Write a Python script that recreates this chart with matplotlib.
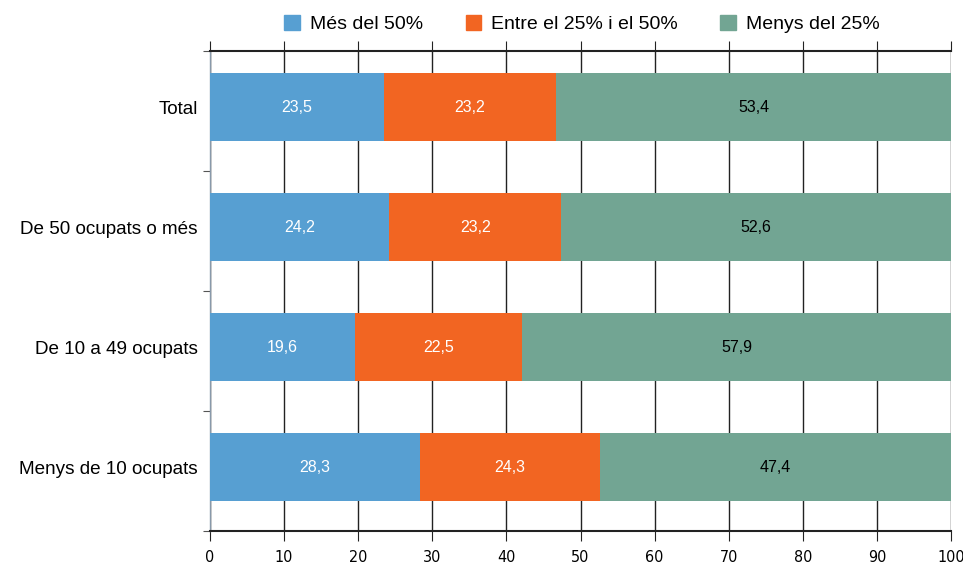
import numpy as np
import matplotlib.pyplot as plt
from matplotlib.patches import Patch

categories = ["Total", "De 50 ocupats o més", "De 10 a 49 ocupats", "Menys de 10 ocupats"]
series_names = ["Més del 50%", "Entre el 25% i el 50%", "Menys del 25%"]
mes_50 = [23.5, 24.2, 19.6, 28.3]
entre_25_50 = [23.2, 23.2, 22.5, 24.3]
menys_25 = [53.4, 52.6, 57.9, 47.4]

colors = ["#579fd2", "#f26522", "#72a593"]
text_colors = ["white", "white", "black"]

plt.rcParams['font.family'] = ['Liberation Sans', 'DejaVu Sans']

fig = plt.figure(figsize=(9.63, 5.68), dpi=100)
ax = fig.add_axes([210 / 963, 1 - 531 / 568, (951 - 210) / 963, (531 - 51) / 568])

y = np.arange(len(categories))
left = np.zeros(len(categories))
for vals, col, tcol in zip([mes_50, entre_25_50, menys_25], colors, text_colors):
    vals = np.array(vals)
    ax.barh(y, vals, left=left, height=0.57, color=col, zorder=3)
    for yi, l, v in zip(y, left, vals):
        ax.text(l + v / 2, yi, f"{v:.1f}".replace(".", ","), ha="center", va="center",
                color=tcol, fontsize=11.5, zorder=4)
    left = left + vals

ax.set_xlim(0, 100)
ax.set_ylim(len(categories) - 0.467, -0.467)
ax.set_xticks(np.arange(0, 101, 10))
ax.set_xticklabels([str(v) for v in range(0, 101, 10)], family='DejaVu Sans',
                   fontstretch='condensed', fontsize=11.5)
ax.xaxis.grid(True, color="#222222", linewidth=1, zorder=0)

# category labels as minor ticks, boundaries as major ticks
ax.set_yticks(np.arange(-0.467, len(categories)))
ax.set_yticklabels([])
ax.set_yticks(y, minor=True)
ax.set_yticklabels(categories, minor=True, fontsize=13.6)
ax.tick_params(axis='y', which='minor', length=0, pad=9)
ax.tick_params(axis='y', which='major', length=5, color="#555555")
ax.tick_params(axis='x', top=True, bottom=True, direction='out', length=7,
               color="#222222", pad=7)

ax.spines['top'].set_linewidth(1.5)
ax.spines['bottom'].set_linewidth(1.5)
ax.spines['top'].set_color("#222222")
ax.spines['bottom'].set_color("#222222")
ax.spines['right'].set_visible(False)
ax.spines['left'].set_color("#8899aa")
ax.spines['left'].set_linewidth(1)

handles = [Patch(color=c) for c in colors]
fig.legend(handles, series_names, loc="center", bbox_to_anchor=(582 / 963, 1 - 24 / 568),
           ncol=3, frameon=False, fontsize=14, handlelength=0.8, handleheight=0.8,
           handletextpad=0.5, columnspacing=2.2)

fig.savefig("out.png", dpi=100)
